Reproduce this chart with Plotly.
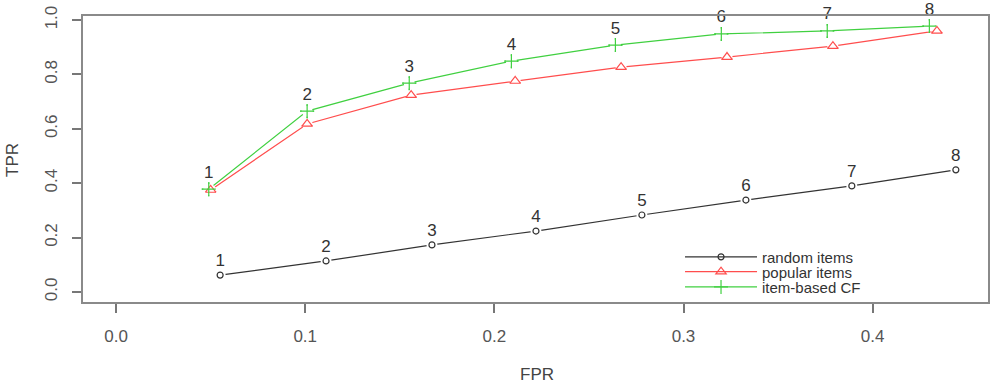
import plotly.graph_objects as go

point_labels = ["1", "2", "3", "4", "5", "6", "7", "8"]

random_fpr = [0.055, 0.111, 0.167, 0.222, 0.278, 0.333, 0.389, 0.444]
random_tpr = [0.062, 0.114, 0.173, 0.224, 0.283, 0.338, 0.390, 0.449]

popular_fpr = [0.050, 0.101, 0.156, 0.211, 0.267, 0.323, 0.379, 0.434]
popular_tpr = [0.375, 0.618, 0.724, 0.776, 0.827, 0.864, 0.904, 0.960]

itemcf_fpr = [0.049, 0.101, 0.155, 0.209, 0.264, 0.320, 0.376, 0.430]
itemcf_tpr = [0.378, 0.665, 0.768, 0.849, 0.908, 0.949, 0.960, 0.978]

series_names = ["random items", "popular items", "item-based CF"]
series_colors = ["#333333", "#ff4d4d", "#40d040"]
series_symbols = ["circle-open", "triangle-up-open", "cross-thin-open"]
series_sizes = [6, 9, 10]
series_show_labels = [True, False, True]
series_legends = ["legend", "legend2", "legend3"]

FONT = "Liberation Sans, Arial, sans-serif"

data = [(random_fpr, random_tpr), (popular_fpr, popular_tpr), (itemcf_fpr, itemcf_tpr)]

fig = go.Figure()

# base lines (with legend)
for (xs, ys), name, col, sym, sz, lg in zip(data, series_names, series_colors, series_symbols,
                                              series_sizes, series_legends):
    fig.add_trace(go.Scatter(
        x=xs, y=ys, name=name, mode="lines+markers", legend=lg,
        line=dict(color=col, width=1.2),
        marker=dict(symbol=sym, size=sz, color=col, line=dict(width=1.2, color=col)),
    ))

# white halos to create R-style gaps around points
for (xs, ys) in data:
    fig.add_trace(go.Scatter(
        x=xs, y=ys, mode="markers", showlegend=False, hoverinfo="skip",
        marker=dict(symbol="circle", size=11, color="white", line=dict(width=0)),
    ))

# open markers + labels on top
for (xs, ys), col, sym, sz, lab in zip(data, series_colors, series_symbols, series_sizes, series_show_labels):
    fig.add_trace(go.Scatter(
        x=xs, y=ys, mode="markers+text" if lab else "markers", showlegend=False, hoverinfo="skip",
        marker=dict(symbol=sym, size=sz, color=col, line=dict(width=1.2, color=col)),
        text=point_labels if lab else None, textposition="top center", cliponaxis=False,
        textfont=dict(size=17, color="#333333", family=FONT),
    ))

axis_common = dict(
    showgrid=False, zeroline=False, showline=True, mirror=True, automargin=False,
    linecolor="#8a8a8a", linewidth=2,
    ticks="outside", ticklen=9, tickwidth=1.5, tickcolor="#777777",
    tickfont=dict(size=17, color="#555555", family=FONT),
    tickformat=".1f",
)

legend_common = dict(xanchor="left", yanchor="middle", bgcolor="rgba(0,0,0,0)",
                     font=dict(size=15, color="#333333", family=FONT), itemwidth=72)
legend_x = 0.6597

fig.update_layout(
    width=992, height=385,
    margin=dict(l=83, r=4, t=16, b=83, autoexpand=False),
    plot_bgcolor="white", paper_bgcolor="white",
    font=dict(family=FONT, color="#333333"),
    xaxis=dict(range=[-0.0175, 0.461], tickvals=[0, 0.1, 0.2, 0.3, 0.4], ticklabelstandoff=9, **axis_common),
    yaxis=dict(range=[-0.037, 1.015], tickvals=[0, 0.2, 0.4, 0.6, 0.8, 1.0], tickangle=-90,
               ticklabelstandoff=8, **axis_common),
    legend=dict(x=legend_x, y=0.157, **legend_common),
    legend2=dict(x=legend_x, y=0.105, **legend_common),
    legend3=dict(x=legend_x, y=0.052, **legend_common),
    annotations=[
        dict(text="FPR", xref="paper", yref="paper", x=0.5017, y=-0.255, showarrow=False,
             xanchor="center", yanchor="middle", font=dict(size=17, color="#444444")),
        dict(text="TPR", xref="paper", yref="paper", x=-0.0785, y=0.4965, showarrow=False,
             xanchor="center", yanchor="middle",
             textangle=-90, font=dict(size=17, color="#444444")),
    ],
)

fig.write_html("out.html", config={"displayModeBar": False},
               post_script="document.body.style.margin='0px';")
